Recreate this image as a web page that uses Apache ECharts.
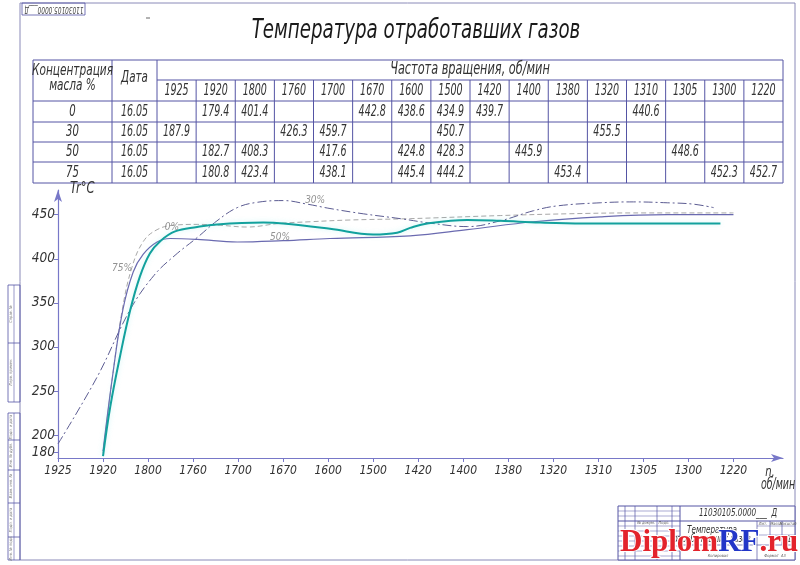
<!DOCTYPE html>
<html><head><meta charset="utf-8">
<script src="https://cdn.jsdelivr.net/npm/echarts@6/dist/echarts.min.js"></script>
<style>html,body{margin:0;padding:0;background:#fff}#c{width:800px;height:565px}</style>
</head><body><div id="c"></div>
<script>
// ---------- DATA ----------
const titleText = 'Температура отработавших газов';
const rpmLabels = ['1925','1920','1800','1760','1700','1670','1600','1500','1420','1400','1380','1320','1310','1305','1300','1220'];
const concLabels = ['0','30','50','75'];
const dates = ['16.05','16.05','16.05','16.05'];
const tbl0  = ['','179.4','401.4','','','442.8','438.6','434.9','439.7','','','','440.6','','',''];
const tbl30 = ['187.9','','','426.3','459.7','','','450.7','','','','455.5','','','',''];
const tbl50 = ['','182.7','408.3','','417.6','','424.8','428.3','','445.9','','','','448.6','',''];
const tbl75 = ['','180.8','423.4','','438.1','','445.4','444.2','','','453.4','','','','452.3','452.7'];
const yTicks = [180,200,250,300,350,400,450];

// curves (x = position along the rpm axis, in column units)
const c0x  = [1.0,1.2,1.42,1.64,1.9,2.2,2.56,3.09,3.6,4.2,4.9,5.6,6.5,7.82,9.82,11.31,12.78,15];
const c0y  = [180,262,340,390,420,433,438,439,438,436,440,442,444,445.5,449,451,452,452];
const c30x = [0,0.87,1.6,2.13,2.6,3.09,3.53,3.98,4.42,5.0,5.53,6.04,6.78,7.6,8.33,9.09,9.82,10.56,11.09,12.04,12.78,13.53,14.1,14.56];
const c30y = [190,266,342,381,404,424,443,458,464,466,462,457,451,445.5,440,436.5,443,454.5,460,463.5,464.5,463.5,462,458];
const c50x = [1.0,1.22,1.44,1.67,1.89,2.2,2.49,3.09,3.98,5.0,6.04,7.82,9.09,10.56,12.04,13.53,15];
const c50y = [182,270,342,385,405,419,423,422,419,420.5,423,426,433,442,447.5,450,450];
const c75x = [1.0,1.16,1.38,1.6,1.82,2.04,2.27,2.6,3.09,3.53,4.56,5.0,6.04,7.0,7.53,7.82,8.2,9.09,9.82,10.71,11.67,14.71];
const c75y = [176,232,290,341,380,406,420,431,436,439,441,440,434,427.5,429.5,435,440,444,443,441,440,440];
const curveNames = ['0%','30%','50%','75%'];
const curveLabelPos = [[2.53,436],[5.71,466],[4.93,424],[1.42,389]];

// ---------- DRAW ----------
const FONT = "'Liberation Sans Narrow','DejaVu Sans Condensed','Liberation Sans',sans-serif";
const lineCol = '#5454a4';
const axisCol = '#7878c8';
const textCol = '#333';
const zip = (a,b) => a.map((v,i)=>[v,b[i]]);

const g = [];
function line(x1,y1,x2,y2,c,w){ g.push({type:'line',silent:true,shape:{x1,y1,x2,y2},style:{stroke:c||lineCol,lineWidth:w||1}}); }
function txt(x,y,s,size,extra,rot,sx){ g.push({type:'text',silent:true,x,y,rotation:rot||0,scaleX:sx||1,style:Object.assign({text:s,fill:textCol,font:`italic ${size}px ${FONT}`,align:'center',verticalAlign:'middle'},extra||{})}); }

// page frame
g.push({type:'rect',silent:true,shape:{x:20,y:3,width:775,height:557},style:{fill:'none',stroke:'#8a8ab8',lineWidth:1}});
g.push({type:'rect',silent:true,shape:{x:22,y:3,width:63,height:12},style:{fill:'none',stroke:lineCol,lineWidth:0.8}});
txt(54,9,'11030105.0000___Д',8,{fill:'#444'},Math.PI,0.8);
line(146,18,150,18,'#666',1);
// left strips
g.push({type:'rect',silent:true,shape:{x:8,y:285,width:12,height:117},style:{fill:'none',stroke:lineCol,lineWidth:0.8}});
line(14,285,14,402,lineCol,0.6); line(8,343,20,343,lineCol,0.8);
g.push({type:'rect',silent:true,shape:{x:8,y:413,width:12,height:147},style:{fill:'none',stroke:lineCol,lineWidth:0.8}});
line(14,413,14,560,lineCol,0.6);
[440,470,503,537].forEach(y=>line(8,y,20,y,lineCol,0.8));
const stripTxt = [['Справ. №',314],['Перв. примен.',372],['Подп. и дата',427],['Инв. № дубл.',455],['Взам. инв. №',486],['Подп. и дата',520],['Инв. № подл.',548]];
stripTxt.forEach(s=>txt(11,s[1],s[0],4,{fill:'#777'},Math.PI/2));

// title
txt(416,31,titleText,27,{fill:'#1a1a1a'},0,0.75);

// table
const T = {x0:33,x1:783,yTop:60,yH1:80,yH2:101,rows:[101,122,142,162,183],c1:112,c2:157};
const colW = (T.x1-T.c2)/rpmLabels.length;
g.push({type:'rect',silent:true,shape:{x:T.x0,y:T.yTop,width:T.x1-T.x0,height:T.rows[4]-T.yTop},style:{fill:'none',stroke:lineCol,lineWidth:1}});
line(T.c1,T.yTop,T.c1,T.rows[4]); line(T.c2,T.yTop,T.c2,T.rows[4]);
for(let k=1;k<rpmLabels.length;k++){ const x=T.c2+colW*k; line(x,T.yH1,x,T.rows[4]); }
line(T.c2,T.yH1,T.x1,T.yH1);
for(let r=0;r<4;r++) line(T.x0,T.rows[r],T.x1,T.rows[r]);
txt((T.x0+T.c1)/2,71,'Концентрация',15,null,0,0.78);
txt((T.x0+T.c1)/2,86,'масла %',15,null,0,0.78);
txt((T.c1+T.c2)/2,78,'Дата',16,null,0,0.72);
txt((T.c2+T.x1)/2,70,'Частота вращения, об/мин',17,null,0,0.74);
rpmLabels.forEach((l,k)=>txt(T.c2+colW*(k+0.5),91,l,16,null,0,0.66));
const tblRows=[tbl0,tbl30,tbl50,tbl75];
tblRows.forEach((row,r)=>{
  const yc=(T.rows[r]+T.rows[r+1])/2;
  txt((T.x0+T.c1)/2,yc,concLabels[r],16,null,0,0.7);
  txt((T.c1+T.c2)/2,yc,dates[r],16,null,0,0.66);
  row.forEach((v,k)=>{ if(v) txt(T.c2+colW*(k+0.5),yc,v,16,null,0,0.66); });
});

// axis titles
txt(70,189,'Tr°C',16,{align:'left'},0,0.8);
txt(770,472,'n,',14,null,0,0.8);
txt(778,485,'об/мин',15,null,0,0.7);

// title block (bottom-right)
const S={x0:618,x1:795,y0:506,y1:560};
g.push({type:'rect',silent:true,shape:{x:S.x0,y:S.y0,width:S.x1-S.x0,height:S.y1-S.y0},style:{fill:'#fff',stroke:lineCol,lineWidth:1}});
line(S.x0,521,S.x1,521);
[625,635,657,672].forEach(x=>line(x,S.y0,x,S.y1,lineCol,0.7));
line(680,S.y0,680,S.y1);
[511,516,526,531,536,541,546,551,556].forEach(y=>line(S.x0,y,680,y,lineCol,0.5));
[757,770,782].forEach(x=>line(x,521,x,545,lineCol,0.7));
line(757,526,S.x1,526,lineCol,0.5); line(757,535,S.x1,535,lineCol,0.5); line(680,545,S.x1,545,lineCol,0.7);
line(757,545,757,S.y1,lineCol,0.7);
txt(738,513,'11030105.0000___  Д',10,{fill:'#333'},0,0.8);
txt(712,530,'Температура',10,{fill:'#333'},0,0.8);
txt(712,539,'отработавших газов',10,{fill:'#333'},0,0.8);
txt(646,523,'№ докум.',4,{fill:'#555'}); txt(664,523,'Подп.',4,{fill:'#555'});
txt(763,523.5,'Лит.',4,{fill:'#555'}); txt(776,523.5,'Масса',4,{fill:'#555'}); txt(788,523.5,'Масштаб',4,{fill:'#555'});
txt(787,540,'11',8,{fill:'#333'});
txt(718,556,'Копировал',4,{fill:'#555'}); txt(775,556,'Формат  А3',4,{fill:'#555'});
// watermark
const WF = `bold 31px 'Liberation Serif','DejaVu Serif',serif`;
g.push({type:'text',silent:true,x:620,y:543,style:{
  text:'{a|Diplom}{b|RF}{a|.ru}',font:WF,verticalAlign:'middle',align:'left',
  rich:{a:{fill:'#e3232c',font:WF,stroke:'#fff',lineWidth:2},
        b:{fill:'#2236c8',font:WF,stroke:'#fff',lineWidth:2}}}, z:100});

const chart = echarts.init(document.getElementById('c'));
const labelStyle = {fontFamily:FONT,fontStyle:'italic',color:'#333'};
chart.setOption({
  animation:false,
  backgroundColor:'#fff',
  grid:{left:58,right:17,top:190,bottom:107,containLabel:false,outerBoundsMode:'none'},
  xAxis:{type:'value',min:0,max:16.1,interval:1,
    axisLine:{lineStyle:{color:axisCol,width:1.2},symbol:['none','arrow'],symbolSize:[6,12]},
    axisTick:{customValues:rpmLabels.map((_,i)=>i),length:4,lineStyle:{color:axisCol}},
    axisLabel:{customValues:rpmLabels.map((_,i)=>i),formatter:v=>rpmLabels[Math.round(v)]||'',margin:7,fontSize:12,...labelStyle},
    splitLine:{show:false}},
  yAxis:{type:'value',min:174,max:478,
    axisLine:{show:true,lineStyle:{color:axisCol,width:1.2},symbol:['none','arrow'],symbolSize:[6,12]},
    axisTick:{show:true,customValues:yTicks,length:4,lineStyle:{color:axisCol}},
    axisLabel:{customValues:yTicks,margin:3,fontSize:13.5,...labelStyle},
    splitLine:{show:false}},
  series:[
    {name:'0%',type:'line',data:zip(c0x,c0y),smooth:0.4,showSymbol:false,
      lineStyle:{color:'#a8a8a8',width:1,type:[5,3]},z:3},
    {name:'30%',type:'line',data:zip(c30x,c30y),smooth:0.4,showSymbol:false,
      lineStyle:{color:'#5c5c92',width:1,type:[9,3,2,3]},z:3},
    {name:'50%',type:'line',data:zip(c50x,c50y),smooth:0.4,showSymbol:false,
      lineStyle:{color:'#6a6ab0',width:1.2},z:4},
    {name:'75%',type:'line',data:zip(c75x,c75y),smooth:0.4,showSymbol:false,
      lineStyle:{color:'#12a19d',width:2,shadowColor:'rgba(110,225,225,0.35)',shadowBlur:5},z:5},
    {name:'labels',type:'scatter',symbolSize:0,data:curveLabelPos.map((p,i)=>({value:p,name:curveNames[i]})),
      label:{show:true,position:'inside',formatter:p=>p.name,fontSize:10,color:'#777',fontFamily:FONT,fontStyle:'italic'},z:6}
  ],
  graphic:g
});
</script></body></html>
